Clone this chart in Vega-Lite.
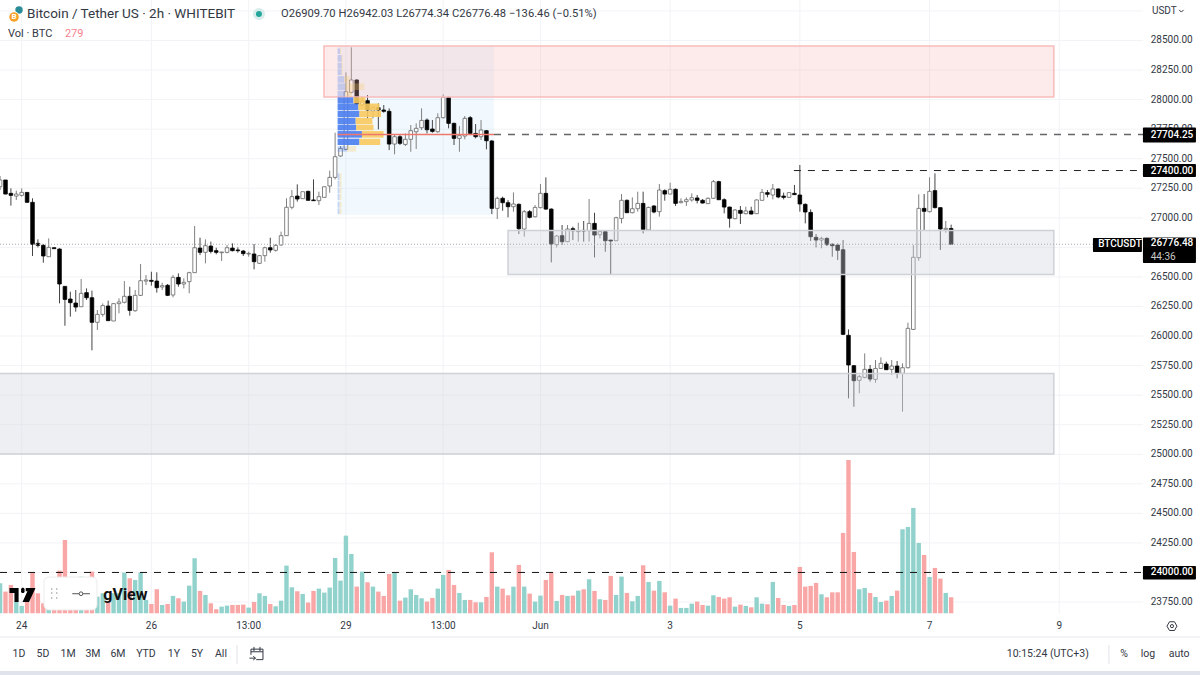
{
"$schema":"https://vega.github.io/schema/vega-lite/v6.json",
"width":1200,"height":675,"padding":0,"autosize":"none","background":"#ffffff",
"config":{"view":{"stroke":null},"text":{"font":"Roboto"}},
"datasets":{
"candles":[
{"i":-4,"o":27263,"h":27354,"l":27235,"c":27320,"v":522},
{"i":-3,"o":27320,"h":27320,"l":27201,"c":27201,"v":377},
{"i":-2,"o":27207,"h":27249,"l":27103,"c":27190,"v":493},
{"i":-1,"o":27184,"h":27230,"l":27151,"c":27201,"v":203},
{"i":0,"o":27190,"h":27249,"l":27179,"c":27215,"v":128},
{"i":1,"o":27215,"h":27215,"l":27131,"c":27131,"v":232},
{"i":2,"o":27131,"h":27165,"l":26677,"c":26776,"v":708},
{"i":3,"o":26784,"h":26818,"l":26750,"c":26767,"v":348},
{"i":4,"o":26767,"h":26778,"l":26620,"c":26677,"v":174},
{"i":5,"o":26671,"h":26826,"l":26671,"c":26750,"v":145},
{"i":6,"o":26747,"h":26750,"l":26737,"c":26739,"v":174},
{"i":7,"o":26736,"h":26742,"l":26276,"c":26440,"v":742},
{"i":8,"o":26420,"h":26423,"l":26087,"c":26310,"v":1276},
{"i":9,"o":26313,"h":26375,"l":26164,"c":26282,"v":174},
{"i":10,"o":26279,"h":26389,"l":26206,"c":26245,"v":145},
{"i":11,"o":26248,"h":26482,"l":26248,"c":26361,"v":638},
{"i":12,"o":26367,"h":26403,"l":26305,"c":26324,"v":290},
{"i":13,"o":26324,"h":26384,"l":25879,"c":26116,"v":725},
{"i":14,"o":26116,"h":26220,"l":26051,"c":26183,"v":290},
{"i":15,"o":26183,"h":26276,"l":26164,"c":26257,"v":348},
{"i":16,"o":26254,"h":26299,"l":26130,"c":26130,"v":203},
{"i":17,"o":26127,"h":26277,"l":26127,"c":26274,"v":348},
{"i":18,"o":26274,"h":26319,"l":26192,"c":26288,"v":348},
{"i":19,"o":26285,"h":26465,"l":26276,"c":26336,"v":708},
{"i":20,"o":26336,"h":26417,"l":26172,"c":26217,"v":609},
{"i":21,"o":26214,"h":26389,"l":26206,"c":26344,"v":580},
{"i":22,"o":26344,"h":26609,"l":26338,"c":26468,"v":708},
{"i":23,"o":26465,"h":26516,"l":26431,"c":26474,"v":232},
{"i":24,"o":26471,"h":26544,"l":26426,"c":26463,"v":162},
{"i":25,"o":26465,"h":26539,"l":26367,"c":26409,"v":418},
{"i":26,"o":26415,"h":26451,"l":26389,"c":26426,"v":145},
{"i":27,"o":26429,"h":26440,"l":26338,"c":26344,"v":162},
{"i":28,"o":26347,"h":26516,"l":26327,"c":26496,"v":302},
{"i":29,"o":26496,"h":26530,"l":26417,"c":26440,"v":261},
{"i":30,"o":26440,"h":26488,"l":26403,"c":26454,"v":203},
{"i":31,"o":26460,"h":26544,"l":26361,"c":26536,"v":481},
{"i":32,"o":26536,"h":26931,"l":26536,"c":26747,"v":957},
{"i":33,"o":26744,"h":26832,"l":26685,"c":26708,"v":389},
{"i":34,"o":26708,"h":26818,"l":26615,"c":26764,"v":319},
{"i":35,"o":26761,"h":26798,"l":26699,"c":26716,"v":174},
{"i":36,"o":26722,"h":26747,"l":26691,"c":26708,"v":70},
{"i":37,"o":26705,"h":26711,"l":26635,"c":26711,"v":116},
{"i":38,"o":26708,"h":26770,"l":26699,"c":26747,"v":133},
{"i":39,"o":26744,"h":26784,"l":26716,"c":26722,"v":145},
{"i":40,"o":26728,"h":26750,"l":26705,"c":26722,"v":145},
{"i":41,"o":26719,"h":26728,"l":26677,"c":26697,"v":151},
{"i":42,"o":26694,"h":26714,"l":26671,"c":26699,"v":99},
{"i":43,"o":26694,"h":26778,"l":26564,"c":26629,"v":197},
{"i":44,"o":26615,"h":26685,"l":26609,"c":26680,"v":348},
{"i":45,"o":26680,"h":26756,"l":26629,"c":26747,"v":302},
{"i":46,"o":26747,"h":26832,"l":26705,"c":26728,"v":162},
{"i":47,"o":26725,"h":26778,"l":26714,"c":26767,"v":122},
{"i":48,"o":26770,"h":26883,"l":26764,"c":26849,"v":220},
{"i":49,"o":26849,"h":27165,"l":26849,"c":27089,"v":829},
{"i":50,"o":27089,"h":27235,"l":27072,"c":27179,"v":452},
{"i":51,"o":27184,"h":27283,"l":27137,"c":27159,"v":383},
{"i":52,"o":27162,"h":27221,"l":27162,"c":27221,"v":336},
{"i":53,"o":27224,"h":27230,"l":27145,"c":27148,"v":186},
{"i":54,"o":27151,"h":27325,"l":27145,"c":27145,"v":389},
{"i":55,"o":27145,"h":27221,"l":27108,"c":27179,"v":429},
{"i":56,"o":27173,"h":27263,"l":27173,"c":27263,"v":360},
{"i":57,"o":27269,"h":27399,"l":27212,"c":27342,"v":447},
{"i":58,"o":27342,"h":27720,"l":27325,"c":27517,"v":963},
{"i":59,"o":27523,"h":27607,"l":27517,"c":27587,"v":568},
{"i":60,"o":27579,"h":28230,"l":27573,"c":28067,"v":1351},
{"i":61,"o":28061,"h":28442,"l":28053,"c":28166,"v":1032},
{"i":62,"o":28166,"h":28171,"l":27954,"c":27963,"v":464},
{"i":63,"o":27954,"h":28025,"l":27940,"c":27988,"v":725},
{"i":64,"o":27991,"h":28039,"l":27841,"c":27912,"v":539},
{"i":65,"o":27903,"h":27954,"l":27841,"c":27932,"v":464},
{"i":66,"o":27932,"h":27968,"l":27748,"c":27912,"v":377},
{"i":67,"o":27912,"h":27954,"l":27889,"c":27901,"v":302},
{"i":68,"o":27901,"h":27926,"l":27573,"c":27624,"v":684},
{"i":69,"o":27624,"h":27709,"l":27537,"c":27686,"v":708},
{"i":70,"o":27686,"h":27700,"l":27616,"c":27630,"v":220},
{"i":71,"o":27621,"h":27714,"l":27607,"c":27664,"v":273},
{"i":72,"o":27664,"h":27785,"l":27559,"c":27737,"v":418},
{"i":73,"o":27728,"h":27799,"l":27582,"c":27757,"v":319},
{"i":74,"o":27762,"h":27926,"l":27743,"c":27824,"v":261},
{"i":75,"o":27827,"h":27841,"l":27714,"c":27745,"v":203},
{"i":76,"o":27751,"h":27827,"l":27720,"c":27731,"v":267},
{"i":77,"o":27728,"h":27884,"l":27720,"c":27847,"v":429},
{"i":78,"o":27847,"h":28044,"l":27841,"c":28019,"v":667},
{"i":79,"o":28019,"h":28025,"l":27757,"c":27799,"v":754},
{"i":80,"o":27799,"h":27805,"l":27616,"c":27672,"v":493},
{"i":81,"o":27672,"h":27776,"l":27559,"c":27695,"v":354},
{"i":82,"o":27692,"h":27861,"l":27664,"c":27841,"v":232},
{"i":83,"o":27847,"h":27861,"l":27700,"c":27714,"v":232},
{"i":84,"o":27714,"h":27793,"l":27672,"c":27686,"v":191},
{"i":85,"o":27686,"h":27827,"l":27658,"c":27743,"v":191},
{"i":86,"o":27737,"h":27743,"l":27579,"c":27652,"v":284},
{"i":87,"o":27650,"h":27658,"l":27032,"c":27080,"v":1061},
{"i":88,"o":27080,"h":27179,"l":26990,"c":27165,"v":464},
{"i":89,"o":27165,"h":27179,"l":27060,"c":27128,"v":429},
{"i":90,"o":27128,"h":27150,"l":27004,"c":27094,"v":313},
{"i":91,"o":27094,"h":27215,"l":27052,"c":27117,"v":464},
{"i":92,"o":27114,"h":27122,"l":26863,"c":26908,"v":841},
{"i":93,"o":26905,"h":27066,"l":26840,"c":27052,"v":464},
{"i":94,"o":27052,"h":27066,"l":26995,"c":27004,"v":342},
{"i":95,"o":27009,"h":27108,"l":27004,"c":27088,"v":203},
{"i":96,"o":27086,"h":27286,"l":27080,"c":27207,"v":307},
{"i":97,"o":27207,"h":27342,"l":27066,"c":27074,"v":580},
{"i":98,"o":27074,"h":27080,"l":26623,"c":26778,"v":713},
{"i":99,"o":26773,"h":26854,"l":26750,"c":26846,"v":215},
{"i":100,"o":26849,"h":26939,"l":26770,"c":26798,"v":319},
{"i":101,"o":26798,"h":26939,"l":26798,"c":26905,"v":302},
{"i":102,"o":26908,"h":26925,"l":26812,"c":26891,"v":307},
{"i":103,"o":26883,"h":26959,"l":26798,"c":26888,"v":394},
{"i":104,"o":26894,"h":26973,"l":26798,"c":26888,"v":418},
{"i":105,"o":26891,"h":27159,"l":26798,"c":26953,"v":592},
{"i":106,"o":26953,"h":27043,"l":26665,"c":26854,"v":389},
{"i":107,"o":26857,"h":26897,"l":26826,"c":26883,"v":244},
{"i":108,"o":26883,"h":26897,"l":26713,"c":26806,"v":232},
{"i":109,"o":26812,"h":26812,"l":26516,"c":26804,"v":650},
{"i":110,"o":26806,"h":27009,"l":26806,"c":27001,"v":319},
{"i":111,"o":26995,"h":27201,"l":26953,"c":27148,"v":638},
{"i":112,"o":27148,"h":27156,"l":27043,"c":27043,"v":354},
{"i":113,"o":27043,"h":27173,"l":27038,"c":27077,"v":209},
{"i":114,"o":27077,"h":27221,"l":27052,"c":27122,"v":302},
{"i":115,"o":27122,"h":27221,"l":26868,"c":26902,"v":835},
{"i":116,"o":26897,"h":27094,"l":26891,"c":27088,"v":545},
{"i":117,"o":27100,"h":27108,"l":27038,"c":27049,"v":394},
{"i":118,"o":27052,"h":27286,"l":27010,"c":27235,"v":563},
{"i":119,"o":27230,"h":27241,"l":27145,"c":27201,"v":365},
{"i":120,"o":27201,"h":27297,"l":27199,"c":27241,"v":133},
{"i":121,"o":27241,"h":27249,"l":27100,"c":27122,"v":255},
{"i":122,"o":27128,"h":27165,"l":27122,"c":27139,"v":93},
{"i":123,"o":27137,"h":27173,"l":27100,"c":27153,"v":93},
{"i":124,"o":27151,"h":27207,"l":27137,"c":27170,"v":168},
{"i":125,"o":27168,"h":27193,"l":27122,"c":27148,"v":203},
{"i":126,"o":27148,"h":27159,"l":27122,"c":27125,"v":145},
{"i":127,"o":27120,"h":27173,"l":27117,"c":27165,"v":133},
{"i":128,"o":27165,"h":27320,"l":27162,"c":27306,"v":313},
{"i":129,"o":27306,"h":27314,"l":27151,"c":27153,"v":284},
{"i":130,"o":27153,"h":27165,"l":27038,"c":27091,"v":255},
{"i":131,"o":27091,"h":27094,"l":26917,"c":26996,"v":278},
{"i":132,"o":26993,"h":27074,"l":26987,"c":27066,"v":116},
{"i":133,"o":27063,"h":27100,"l":26948,"c":27038,"v":151},
{"i":134,"o":27035,"h":27094,"l":27029,"c":27058,"v":128},
{"i":135,"o":27058,"h":27094,"l":27029,"c":27032,"v":104},
{"i":136,"o":27035,"h":27156,"l":27032,"c":27151,"v":278},
{"i":137,"o":27148,"h":27244,"l":27145,"c":27215,"v":168},
{"i":138,"o":27213,"h":27235,"l":27173,"c":27199,"v":157},
{"i":139,"o":27193,"h":27286,"l":27156,"c":27244,"v":545},
{"i":140,"o":27244,"h":27249,"l":27165,"c":27176,"v":267},
{"i":141,"o":27184,"h":27213,"l":27156,"c":27173,"v":145},
{"i":142,"o":27173,"h":27215,"l":27168,"c":27213,"v":128},
{"i":143,"o":27207,"h":27278,"l":27193,"c":27196,"v":145},
{"i":144,"o":27193,"h":27447,"l":27052,"c":27117,"v":806},
{"i":145,"o":27114,"h":27122,"l":26953,"c":27049,"v":464},
{"i":146,"o":27046,"h":27072,"l":26804,"c":26840,"v":476},
{"i":147,"o":26835,"h":26863,"l":26750,"c":26812,"v":528},
{"i":148,"o":26812,"h":26840,"l":26742,"c":26826,"v":331},
{"i":149,"o":26826,"h":26835,"l":26761,"c":26773,"v":278},
{"i":150,"o":26776,"h":26784,"l":26671,"c":26764,"v":365},
{"i":151,"o":26770,"h":26784,"l":26643,"c":26725,"v":365},
{"i":152,"o":26730,"h":26812,"l":26008,"c":26014,"v":1398},
{"i":153,"o":26006,"h":26056,"l":25473,"c":25755,"v":2668},
{"i":154,"o":25749,"h":25755,"l":25402,"c":25622,"v":1067},
{"i":155,"o":25625,"h":25670,"l":25515,"c":25656,"v":418},
{"i":156,"o":25650,"h":25853,"l":25642,"c":25718,"v":441},
{"i":157,"o":25718,"h":25755,"l":25614,"c":25636,"v":354},
{"i":158,"o":25633,"h":25797,"l":25605,"c":25726,"v":284},
{"i":159,"o":25726,"h":25820,"l":25721,"c":25769,"v":197},
{"i":160,"o":25763,"h":25783,"l":25712,"c":25715,"v":220},
{"i":161,"o":25718,"h":25797,"l":25670,"c":25746,"v":302},
{"i":162,"o":25746,"h":25789,"l":25642,"c":25684,"v":394},
{"i":163,"o":25684,"h":25769,"l":25360,"c":25732,"v":1462},
{"i":164,"o":25732,"h":26113,"l":25726,"c":26065,"v":1502},
{"i":165,"o":26056,"h":26770,"l":26051,"c":26666,"v":1833},
{"i":166,"o":26663,"h":27199,"l":26637,"c":27080,"v":1224},
{"i":167,"o":27080,"h":27201,"l":26897,"c":27055,"v":1015},
{"i":168,"o":27052,"h":27342,"l":27046,"c":27224,"v":632},
{"i":169,"o":27230,"h":27376,"l":27080,"c":27086,"v":789},
{"i":170,"o":27086,"h":27089,"l":26728,"c":26905,"v":603},
{"i":171,"o":26900,"h":26973,"l":26874,"c":26911,"v":354},
{"i":172,"o":26909.7,"h":26942.03,"l":26774.34,"c":26776.48,"v":279}
],
"profile":[
{"i":58.46,"i2":61.4,"p":28019,"p2":27968,"s":"b","f":false},{"i":61.4,"i2":63.6,"p":28019,"p2":27968,"s":"o","f":false},
{"i":58.46,"i2":62.3,"p":27967,"p2":27912,"s":"b","f":false},{"i":62.3,"i2":66.2,"p":27967,"p2":27912,"s":"o","f":false},
{"i":58.46,"i2":62.5,"p":27906,"p2":27853,"s":"b","f":false},{"i":62.5,"i2":66.5,"p":27906,"p2":27853,"s":"o","f":false},
{"i":58.46,"i2":61.8,"p":27847,"p2":27793,"s":"b","f":false},{"i":61.8,"i2":64.9,"p":27847,"p2":27793,"s":"o","f":false},
{"i":58.46,"i2":61.9,"p":27788,"p2":27740,"s":"b","f":false},{"i":61.9,"i2":65.1,"p":27788,"p2":27740,"s":"o","f":false},
{"i":58.46,"i2":62.96,"p":27734,"p2":27678,"s":"b","f":false},{"i":62.96,"i2":66.96,"p":27734,"p2":27678,"s":"o","f":false},
{"i":58.46,"i2":62.5,"p":27669,"p2":27616,"s":"b","f":false},{"i":62.5,"i2":66.35,"p":27669,"p2":27616,"s":"o","f":false},
{"i":58.46,"i2":60.2,"p":27607,"p2":27559,"s":"b","f":true},{"i":60.2,"i2":61.9,"p":27607,"p2":27559,"s":"o","f":true},
{"i":58.46,"i2":59.9,"p":28075,"p2":28025,"s":"b","f":true},{"i":59.9,"i2":61.1,"p":28075,"p2":28025,"s":"o","f":true},
{"i":58.46,"i2":59.9,"p":28137,"p2":28081,"s":"b","f":true},{"i":59.9,"i2":63.4,"p":28137,"p2":28081,"s":"o","f":true},
{"i":58.46,"i2":59.7,"p":28199,"p2":28143,"s":"b","f":true},{"i":59.7,"i2":60.7,"p":28199,"p2":28143,"s":"o","f":true},
{"i":58.46,"i2":59.2,"p":28256,"p2":28208,"s":"b","f":true},{"i":59.2,"i2":59.4,"p":28256,"p2":28208,"s":"o","f":true},
{"i":58.46,"i2":59.2,"p":28312,"p2":28261,"s":"b","f":true},{"i":59.2,"i2":59.4,"p":28312,"p2":28261,"s":"o","f":true},
{"i":58.46,"i2":59.2,"p":28377,"p2":28321,"s":"b","f":true},{"i":59.2,"i2":59.4,"p":28377,"p2":28321,"s":"o","f":true},
{"i":58.46,"i2":58.9,"p":28433,"p2":28386,"s":"b","f":true},{"i":58.9,"i2":59.1,"p":28433,"p2":28386,"s":"o","f":true},
{"i":58.46,"i2":58.8,"p":27376,"p2":27320,"s":"b","f":true},{"i":58.8,"i2":59.2,"p":27376,"p2":27320,"s":"o","f":true},
{"i":58.46,"i2":58.8,"p":27314,"p2":27258,"s":"b","f":true},{"i":58.8,"i2":59.2,"p":27314,"p2":27258,"s":"o","f":true},
{"i":58.46,"i2":58.8,"p":27249,"p2":27207,"s":"b","f":true},{"i":58.8,"i2":59.2,"p":27249,"p2":27207,"s":"o","f":true},
{"i":58.46,"i2":58.8,"p":27201,"p2":27150,"s":"b","f":true},{"i":58.8,"i2":59.2,"p":27201,"p2":27150,"s":"o","f":true},
{"i":58.46,"i2":58.8,"p":27136,"p2":27086,"s":"b","f":true},{"i":58.8,"i2":59.2,"p":27136,"p2":27086,"s":"o","f":true},
{"i":58.46,"i2":58.8,"p":27080,"p2":27032,"s":"b","f":true},{"i":58.8,"i2":59.2,"p":27080,"p2":27032,"s":"o","f":true}
],
"priceTicks":[
{"i":208.93,"p":28500,"t":"28500.00"},{"i":208.93,"p":28250,"t":"28250.00"},{"i":208.93,"p":28000,"t":"28000.00"},{"i":208.93,"p":27750,"t":"27750.00"},{"i":208.93,"p":27500,"t":"27500.00"},{"i":208.93,"p":27250,"t":"27250.00"},{"i":208.93,"p":27000,"t":"27000.00"},{"i":208.93,"p":26500,"t":"26500.00"},{"i":208.93,"p":26250,"t":"26250.00"},{"i":208.93,"p":26000,"t":"26000.00"},{"i":208.93,"p":25750,"t":"25750.00"},{"i":208.93,"p":25500,"t":"25500.00"},{"i":208.93,"p":25250,"t":"25250.00"},{"i":208.93,"p":25000,"t":"25000.00"},{"i":208.93,"p":24750,"t":"24750.00"},{"i":208.93,"p":24500,"t":"24500.00"},{"i":208.93,"p":24250,"t":"24250.00"},{"i":208.93,"p":23750,"t":"23750.00"}
],
"hgrid":[{"i":-4.0155,"i2":207.5,"p":28750},{"i":-4.0155,"i2":207.5,"p":28500},{"i":-4.0155,"i2":207.5,"p":28250},{"i":-4.0155,"i2":207.5,"p":28000},{"i":-4.0155,"i2":207.5,"p":27750},{"i":-4.0155,"i2":207.5,"p":27500},{"i":-4.0155,"i2":207.5,"p":27250},{"i":-4.0155,"i2":207.5,"p":27000},{"i":-4.0155,"i2":207.5,"p":26750},{"i":-4.0155,"i2":207.5,"p":26500},{"i":-4.0155,"i2":207.5,"p":26250},{"i":-4.0155,"i2":207.5,"p":26000},{"i":-4.0155,"i2":207.5,"p":25750},{"i":-4.0155,"i2":207.5,"p":25500},{"i":-4.0155,"i2":207.5,"p":25250},{"i":-4.0155,"i2":207.5,"p":25000},{"i":-4.0155,"i2":207.5,"p":24750},{"i":-4.0155,"i2":207.5,"p":24500},{"i":-4.0155,"i2":207.5,"p":24250},{"i":-4.0155,"i2":207.5,"p":24000},{"i":-4.0155,"i2":207.5,"p":23750}],
"timeTicks":[{"i":0,"t":"24","p":23551,"top":28842.6,"bot":23657},{"i":24,"t":"26","p":23551,"top":28842.6,"bot":23657},{"i":42,"t":"13:00","p":23551,"top":28842.6,"bot":23657},{"i":60,"t":"29","p":23551,"top":28842.6,"bot":23657},{"i":78,"t":"13:00","p":23551,"top":28842.6,"bot":23657},{"i":96,"t":"Jun","p":23551,"top":28842.6,"bot":23657},{"i":120,"t":"3","p":23551,"top":28842.6,"bot":23657},{"i":144,"t":"5","p":23551,"top":28842.6,"bot":23657},{"i":168,"t":"7","p":23551,"top":28842.6,"bot":23657},{"i":192,"t":"9","p":23551,"top":28842.6,"bot":23657}]
},
"encoding":{
"x":{"field":"i","type":"quantitative","scale":{"domain":[-4.0155,218.05],"nice":false,"zero":false,"padding":0},"axis":null},
"y":{"field":"p","type":"quantitative","scale":{"domain":[23132.5,28842.6],"nice":false,"zero":false},"axis":null}
},
"resolve":{"scale":{"y":"independent"}},
"layer":[
{"data":{"name":"hgrid"},"mark":{"type":"rule","stroke":"#f2f3f6","strokeWidth":1},"encoding":{"x2":{"field":"i2"}}},
{"data":{"name":"timeTicks"},"mark":{"type":"rule","stroke":"#f2f3f6","strokeWidth":1},"encoding":{"y":{"field":"top"},"y2":{"field":"bot"}}},
{"data":{"values":[{"i":58.46,"i2":87.4,"p":28453,"p2":27024}]},"mark":{"type":"rect","fill":"#2196f3","opacity":0.06},"encoding":{"x2":{"field":"i2"},"y2":{"field":"p2"}}},
{"data":{"name":"candles"},"mark":{"type":"bar","orient":"vertical","width":4.4},"encoding":{"y":{"field":"v","stack":null,"scale":{"domain":[-1074,10671],"nice":false,"zero":false}},"color":{"condition":{"test":"datum.c>=datum.o","value":"#92d2cc"},"value":"#f9a6a6"}}},
{"data":{"values":[{"i":-4.0155,"i2":207.5,"p":24000}]},"mark":{"type":"rule","stroke":"#111111","strokeWidth":1,"strokeDash":[7,7]},"encoding":{"x2":{"field":"i2"}}},
{"data":{"name":"candles"},"mark":{"type":"rule","strokeWidth":1},"encoding":{"y":{"field":"l"},"y2":{"field":"h"},"color":{"condition":{"test":"datum.c>=datum.o","value":"#808080"},"value":"#444444"}}},
{"data":{"name":"candles"},"mark":{"type":"bar","orient":"vertical","width":3.6,"strokeWidth":0.8},"encoding":{"y":{"field":"o"},"y2":{"field":"c"},"fill":{"condition":{"test":"datum.c>=datum.o","value":"#ffffff"},"value":"#000000"},"stroke":{"condition":{"test":"datum.c>=datum.o","value":"#666666"},"value":"#000000"}}},
{"data":{"values":[{"i":55.94,"i2":191,"p":28453,"p2":28022}]},"mark":{"type":"rect","fill":"#f8b6b6","fillOpacity":0.27,"stroke":"#f9bcbc","strokeWidth":1.5},"encoding":{"x2":{"field":"i2"},"y2":{"field":"p2"}}},
{"data":{"values":[{"i":90,"i2":191,"p":26893,"p2":26520},{"i":-5,"i2":191,"p":25683,"p2":25002}]},"mark":{"type":"rect","fill":"#d0d4dc","fillOpacity":0.38,"stroke":"#cfd1d6","strokeWidth":1.5},"encoding":{"x2":{"field":"i2"},"y2":{"field":"p2"}}},
{"data":{"name":"profile"},"mark":{"type":"rect"},"encoding":{"x2":{"field":"i2"},"y2":{"field":"p2"},"fill":{"condition":{"test":"datum.s=='b'","value":"#4a7df0"},"value":"#f8c95f"},"opacity":{"condition":{"test":"datum.f","value":0.28},"value":0.9}}},
{"data":{"values":[{"i":58.46,"i2":87.4,"p":27704.25}]},"mark":{"type":"rule","stroke":"#f0776c","strokeWidth":1.5},"encoding":{"x2":{"field":"i2"}}},
{"data":{"values":[{"i":87.4,"i2":207.5,"p":27704.25}]},"mark":{"type":"rule","stroke":"#666666","strokeWidth":1.5,"strokeDash":[7,7]},"encoding":{"x2":{"field":"i2"}}},
{"data":{"values":[{"i":142.9,"i2":207.5,"p":27400}]},"mark":{"type":"rule","stroke":"#222222","strokeWidth":1,"strokeDash":[7,7]},"encoding":{"x2":{"field":"i2"}}},
{"data":{"values":[{"i":-4.0155,"i2":198.2,"p":26776.48}]},"mark":{"type":"rule","stroke":"#aaaaaa","strokeWidth":1,"strokeDash":[1,2]},"encoding":{"x2":{"field":"i2"}}},
{"data":{"values":[{"i":4.13,"i2":13.93,"p":23961,"p2":23683}]},"mark":{"type":"rect","fill":"#ffffff","stroke":"#ececec","cornerRadius":5},"encoding":{"x2":{"field":"i2"},"y2":{"field":"p2"}}},
{"data":{"values":[{"i":5.55,"p":23860},{"i":6.48,"p":23860},{"i":5.55,"p":23826},{"i":6.48,"p":23826},{"i":5.55,"p":23784},{"i":6.48,"p":23784}]},"mark":{"type":"point","filled":true,"size":2.5,"color":"#9a9a9a","opacity":1}},
{"data":{"values":[{"i":9.36,"i2":12.64,"p":23820}]},"mark":{"type":"rule","stroke":"#555555","strokeWidth":1},"encoding":{"x2":{"field":"i2"}}},
{"data":{"values":[{"i":10.97,"p":23820}]},"mark":{"type":"point","filled":true,"size":14,"fill":"#ffffff","stroke":"#555555","strokeWidth":1,"opacity":1}},
{"data":{"values":[{"i":0.15,"p":23809}]},"mark":{"type":"point","shape":"M-1,-0.54H-0.3V0.54H-0.62V-0.15H-1Z M0.25,-0.54H1L0.5,0.54H0L0.38,-0.3H0.25Z M-0.1,-0.35A0.14,0.14 0 1 0 0.15,-0.35A0.14,0.14 0 1 0 -0.1,-0.35Z","size":676,"filled":true,"fill":"#000000","opacity":1}},
{"data":{"values":[{"i":15.1,"p":23809,"t":"gView"}]},"mark":{"type":"text","align":"left","baseline":"middle","fontSize":16,"fontWeight":"bold","color":"#111111"},"encoding":{"text":{"field":"t"}}},
{"data":{"name":"priceTicks"},"mark":{"type":"text","align":"left","baseline":"middle","fontSize":10,"color":"#333844"},"encoding":{"text":{"field":"t"}}},
{"data":{"values":[{"i":207.49,"i2":217.3,"p":27764,"p2":27637},{"i":207.49,"i2":217.3,"p":27455,"p2":27345},{"i":207.49,"i2":217.3,"p":26833.5,"p2":26618},{"i":207.49,"i2":217.3,"p":24054,"p2":23940},{"i":198.24,"i2":207.3,"p":26829,"p2":26711}]},"mark":{"type":"rect","fill":"#000000","cornerRadius":1},"encoding":{"x2":{"field":"i2"},"y2":{"field":"p2"}}},
{"data":{"values":[{"i":208.93,"p":27704.25,"t":"27704.25"},{"i":208.93,"p":27400,"t":"27400.00"},{"i":208.93,"p":26790,"t":"26776.48"},{"i":208.93,"p":24000,"t":"24000.00"},{"i":199.2,"p":26776.48,"t":"BTCUSDT"}]},"mark":{"type":"text","align":"left","baseline":"middle","fontSize":10,"fontWeight":500,"color":"#ffffff"},"encoding":{"text":{"field":"t"}}},
{"data":{"values":[{"i":208.93,"p":26668,"t":"44:36"}]},"mark":{"type":"text","align":"left","baseline":"middle","fontSize":10,"color":"#c8c8c8"},"encoding":{"text":{"field":"t"}}},
{"data":{"name":"timeTicks"},"mark":{"type":"text","align":"center","baseline":"middle","fontSize":10,"color":"#333844"},"encoding":{"text":{"field":"t"}}},
{"data":{"values":[{"i":-4.0155,"i2":218.05,"p":23454}]},"mark":{"type":"rule","stroke":"#e6e8ee","strokeWidth":1},"encoding":{"x2":{"field":"i2"}}},
{"data":{"values":[{"i":-4.0155,"i2":218.05,"p":23166.5,"p2":23132.5}]},"mark":{"type":"rect","fill":"#e0e3eb"},"encoding":{"x2":{"field":"i2"},"y2":{"field":"p2"}}},
{"data":{"values":[{"i":-0.5,"p":23310,"t":"1D"},{"i":3.94,"p":23310,"t":"5D"},{"i":8.57,"p":23310,"t":"1M"},{"i":13.19,"p":23310,"t":"3M"},{"i":17.82,"p":23310,"t":"6M"},{"i":23,"p":23310,"t":"YTD"},{"i":28.18,"p":23310,"t":"1Y"},{"i":32.44,"p":23310,"t":"5Y"},{"i":36.88,"p":23310,"t":"All"},{"i":204,"p":23310,"t":"%"},{"i":208.4,"p":23310,"t":"log"},{"i":214.2,"p":23310,"t":"auto"}]},"mark":{"type":"text","align":"center","baseline":"middle","fontSize":10.5,"color":"#333844"},"encoding":{"text":{"field":"t"}}},
{"data":{"values":[{"i":182.3,"p":23310,"t":"10:15:24 (UTC+3)"}]},"mark":{"type":"text","align":"left","baseline":"middle","fontSize":10.5,"color":"#333844"},"encoding":{"text":{"field":"t"}}},
{"data":{"values":[{"i":39.84,"p":23387,"p2":23226},{"i":201.2,"p":23387,"p2":23226}]},"mark":{"type":"rule","stroke":"#e0e3eb","strokeWidth":1},"encoding":{"y2":{"field":"p2"}}},
{"data":{"values":[{"i":43.54,"p":23310}]},"mark":{"type":"point","shape":"M-0.8,-0.3H0.8 M-0.8,-0.65H0.8V0.75H-0.1 M-0.8,-0.65V0.1 M-0.4,-0.95V-0.4 M0.4,-0.95V-0.4 M-1,0.55H-0.2 M-0.5,0.3L-0.2,0.55L-0.5,0.8","size":225,"filled":false,"stroke":"#333844","strokeWidth":1,"opacity":1}},
{"data":{"values":[{"i":212.86,"p":23546}]},"mark":{"type":"point","shape":"M-0.5,-0.87H0.5L1,0L0.5,0.87H-0.5L-1,0Z","size":100,"filled":false,"stroke":"#333844","strokeWidth":1,"opacity":1}},
{"data":{"values":[{"i":212.86,"p":23546}]},"mark":{"type":"point","shape":"circle","size":10,"filled":false,"stroke":"#333844","strokeWidth":1,"opacity":1}},
{"data":{"values":[{"i":0.98,"p":28724,"t":"Bitcoin / Tether US · 2h · WHITEBIT"}]},"mark":{"type":"text","align":"left","baseline":"middle","fontSize":13.5,"color":"#333844"},"encoding":{"text":{"field":"t"}}},
{"data":{"values":[{"i":47.98,"p":28724,"t":"O26909.70 H26942.03 L26774.34 C26776.48 −136.46 (−0.51%)"}]},"mark":{"type":"text","align":"left","baseline":"middle","fontSize":11.2,"color":"#333844"},"encoding":{"text":{"field":"t"}}},
{"data":{"values":[{"i":-2.54,"p":28555,"t":"Vol · BTC"}]},"mark":{"type":"text","align":"left","baseline":"middle","fontSize":11,"color":"#333844"},"encoding":{"text":{"field":"t"}}},
{"data":{"values":[{"i":8,"p":28555,"t":"279"}]},"mark":{"type":"text","align":"left","baseline":"middle","fontSize":11,"color":"#f7828c"},"encoding":{"text":{"field":"t"}}},
{"data":{"values":[{"i":43.9,"p":28724}]},"mark":{"type":"point","shape":"circle","filled":true,"size":150,"fill":"#d9eeec","opacity":1}},
{"data":{"values":[{"i":43.9,"p":28724}]},"mark":{"type":"point","shape":"circle","filled":true,"size":36,"fill":"#26a69a","opacity":1}},
{"data":{"values":[{"i":-0.5,"p":28758}]},"mark":{"type":"point","shape":"circle","filled":true,"size":55,"fill":"#2a8c96","opacity":1}},
{"data":{"values":[{"i":-1.42,"p":28699}]},"mark":{"type":"point","shape":"circle","filled":true,"size":110,"fill":"#f7a127","stroke":"#ffffff","strokeWidth":1,"opacity":1}},
{"data":{"values":[{"i":-1.42,"p":28699,"t":"B"}]},"mark":{"type":"text","align":"center","baseline":"middle","fontSize":8,"fontWeight":"bold","color":"#ffffff"},"encoding":{"text":{"field":"t"}}},
{"data":{"values":[{"i":209.15,"p":28750,"t":"USDT"}]},"mark":{"type":"text","align":"left","baseline":"middle","fontSize":10,"color":"#333844"},"encoding":{"text":{"field":"t"}}},
{"data":{"values":[{"i":214.6,"p":28750}]},"mark":{"type":"point","shape":"M-1,-0.5L0,0.5L1,-0.5","size":20,"filled":false,"stroke":"#333844","strokeWidth":1,"opacity":1}}
]
}
